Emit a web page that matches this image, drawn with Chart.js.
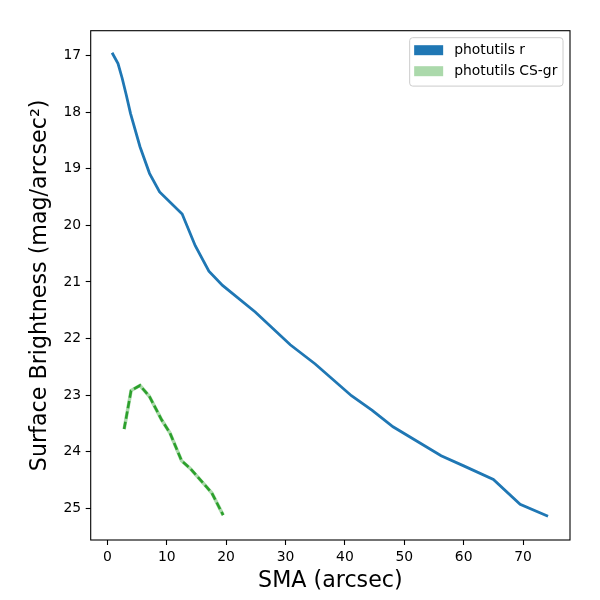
<!DOCTYPE html>
<html>
<head>
<meta charset="utf-8">
<script src="https://cdn.jsdelivr.net/npm/chart.js@4/dist/chart.umd.min.js"></script>
<style>
  html, body { margin: 0; padding: 0; background: #fff; }
  #wrap { width: 600px; height: 600px; }
</style>
</head>
<body>
<div id="wrap"><canvas id="myChart" width="600" height="600"></canvas></div>
<script>
const smaR = [0.8, 1.8, 2.5, 3.2, 3.9, 5.5, 7.1, 8.8, 12.6, 14.8, 17.1, 19.4, 24.9, 30.8, 35.0, 41.1, 44.6, 48.1, 56.2, 60.0, 65.0, 69.5, 74.2];
const sbR = [16.95, 17.14, 17.4, 17.7, 18.02, 18.61, 19.08, 19.41, 19.8, 20.36, 20.81, 21.06, 21.53, 22.11, 22.45, 23.01, 23.27, 23.56, 24.07, 24.25, 24.49, 24.93, 25.14];

const smaCS = [2.83, 4.0, 5.5, 7.07, 9.16, 10.55, 12.5, 13.9, 16.7, 17.6, 19.5];
const sbCS = [23.6, 22.92, 22.83, 23.02, 23.44, 23.67, 24.16, 24.29, 24.62, 24.73, 25.12];

const xTicks = [0, 10, 20, 30, 40, 50, 60, 70];
const yTicks = [17, 18, 19, 20, 21, 22, 23, 24, 25];

const legendLabels = ["photutils r", "photutils CS-gr"];
const legendColors = ["#1f77b4", "rgba(44,160,44,0.4)"];

const font = "'DejaVu Sans', sans-serif";

function toPoints(xs, ys) {
  return xs.map((x, i) => ({ x: x, y: ys[i] }));
}

// full box around the axes, like matplotlib spines
const framePlugin = {
  id: "frame",
  afterDraw(chart) {
    const { ctx, chartArea } = chart;
    ctx.save();
    ctx.strokeStyle = "#000";
    ctx.lineWidth = 1.1;
    ctx.strokeRect(chartArea.left, chartArea.top, chartArea.right - chartArea.left, chartArea.bottom - chartArea.top);
    ctx.restore();
  },
};

// legend box in upper right, drawn inside the axes
const boxLegend = {
  id: "boxLegend",
  afterDraw(chart) {
    const { ctx, chartArea } = chart;
    const fs = 13.9;
    ctx.save();
    ctx.font = fs + "px " + font;
    const textW = Math.max(...legendLabels.map((l) => ctx.measureText(l).width));
    const w = 5.6 + 27.8 + 11.1 + textW + 5.6;
    const h = 5.6 + legendLabels.length * fs * 1.0 + (legendLabels.length - 1) * 7 + 8;
    const x0 = chartArea.right - 7 - w;
    const y0 = chartArea.top + 7;
    const r = 3;
    ctx.beginPath();
    ctx.moveTo(x0 + r, y0);
    ctx.arcTo(x0 + w, y0, x0 + w, y0 + h, r);
    ctx.arcTo(x0 + w, y0 + h, x0, y0 + h, r);
    ctx.arcTo(x0, y0 + h, x0, y0, r);
    ctx.arcTo(x0, y0, x0 + w, y0, r);
    ctx.closePath();
    ctx.fillStyle = "rgba(255,255,255,0.8)";
    ctx.fill();
    ctx.strokeStyle = "#cccccc";
    ctx.lineWidth = 1;
    ctx.stroke();
    legendLabels.forEach((label, i) => {
      const cy = y0 + 12.5 + i * 21;
      ctx.fillStyle = legendColors[i];
      ctx.fillRect(x0 + 4.5, cy - 5, 29, 10);
      ctx.fillStyle = "#000";
      ctx.textBaseline = "middle";
      ctx.fillText(label, x0 + 44.5, cy);
    });
    ctx.restore();
  },
};

function createChart() {
  const data = {
    datasets: [
      {
        label: legendLabels[0],
        data: toPoints(smaR, sbR),
        borderColor: "#1f77b4",
        borderWidth: 2.8,
        pointRadius: 0,
        tension: 0,
      },
      {
        label: legendLabels[1] + " band",
        data: toPoints(smaCS, sbCS),
        borderColor: "rgba(44,160,44,0.4)",
        borderWidth: 3.5,
        pointRadius: 0,
        tension: 0,
      },
      {
        label: legendLabels[1],
        data: toPoints(smaCS, sbCS),
        borderColor: "#2ca02c",
        borderWidth: 2.6,
        borderDash: [7.4, 3.2],
        pointRadius: 0,
        tension: 0,
      },
    ],
  };

  const tickFont = { family: font, size: 13.9 };
  const titleFont = { family: font, size: 22.2 };

  const config = {
    type: "line",
    data,
    options: {
      responsive: false,
      animation: false,
      layout: { padding: { top: 30.7, right: 30, left: 0, bottom: 0 } },
      plugins: {
        legend: { display: false },
        tooltip: { enabled: false },
      },
      scales: {
        x: {
          type: "linear",
          min: -2.8,
          max: 77.9,
          afterBuildTicks: (scale) => {
            scale.ticks = xTicks.map((v) => ({ value: v }));
          },
          afterFit: (scale) => {
            scale.height = 60;
          },
          grid: { drawOnChartArea: false, color: "#000", tickLength: 5, tickWidth: 1.1 },
          border: { display: false },
          ticks: { color: "#000", font: tickFont, padding: 4, maxRotation: 0 },
          title: { display: true, text: "SMA (arcsec)", color: "#000", font: titleFont, padding: { bottom: 5 } },
        },
        y: {
          type: "linear",
          reverse: true,
          min: 16.56,
          max: 25.56,
          afterBuildTicks: (scale) => {
            scale.ticks = yTicks.map((v) => ({ value: v }));
          },
          afterFit: (scale) => {
            scale.width = 90.7;
          },
          grid: { drawOnChartArea: false, color: "#000", tickLength: 5, tickWidth: 1.1 },
          border: { display: false },
          ticks: { color: "#000", font: tickFont, padding: 4.5 },
          title: {
            display: true,
            text: "Surface Brightness (mag/arcsec\u00b2)",
            color: "#000",
            font: titleFont,
            padding: { top: 27 },
          },
        },
      },
    },
    plugins: [framePlugin, boxLegend],
  };
  new Chart(document.getElementById("myChart"), config);
}

document.addEventListener("DOMContentLoaded", () => {
  createChart();
});
</script>
</body>
</html>
